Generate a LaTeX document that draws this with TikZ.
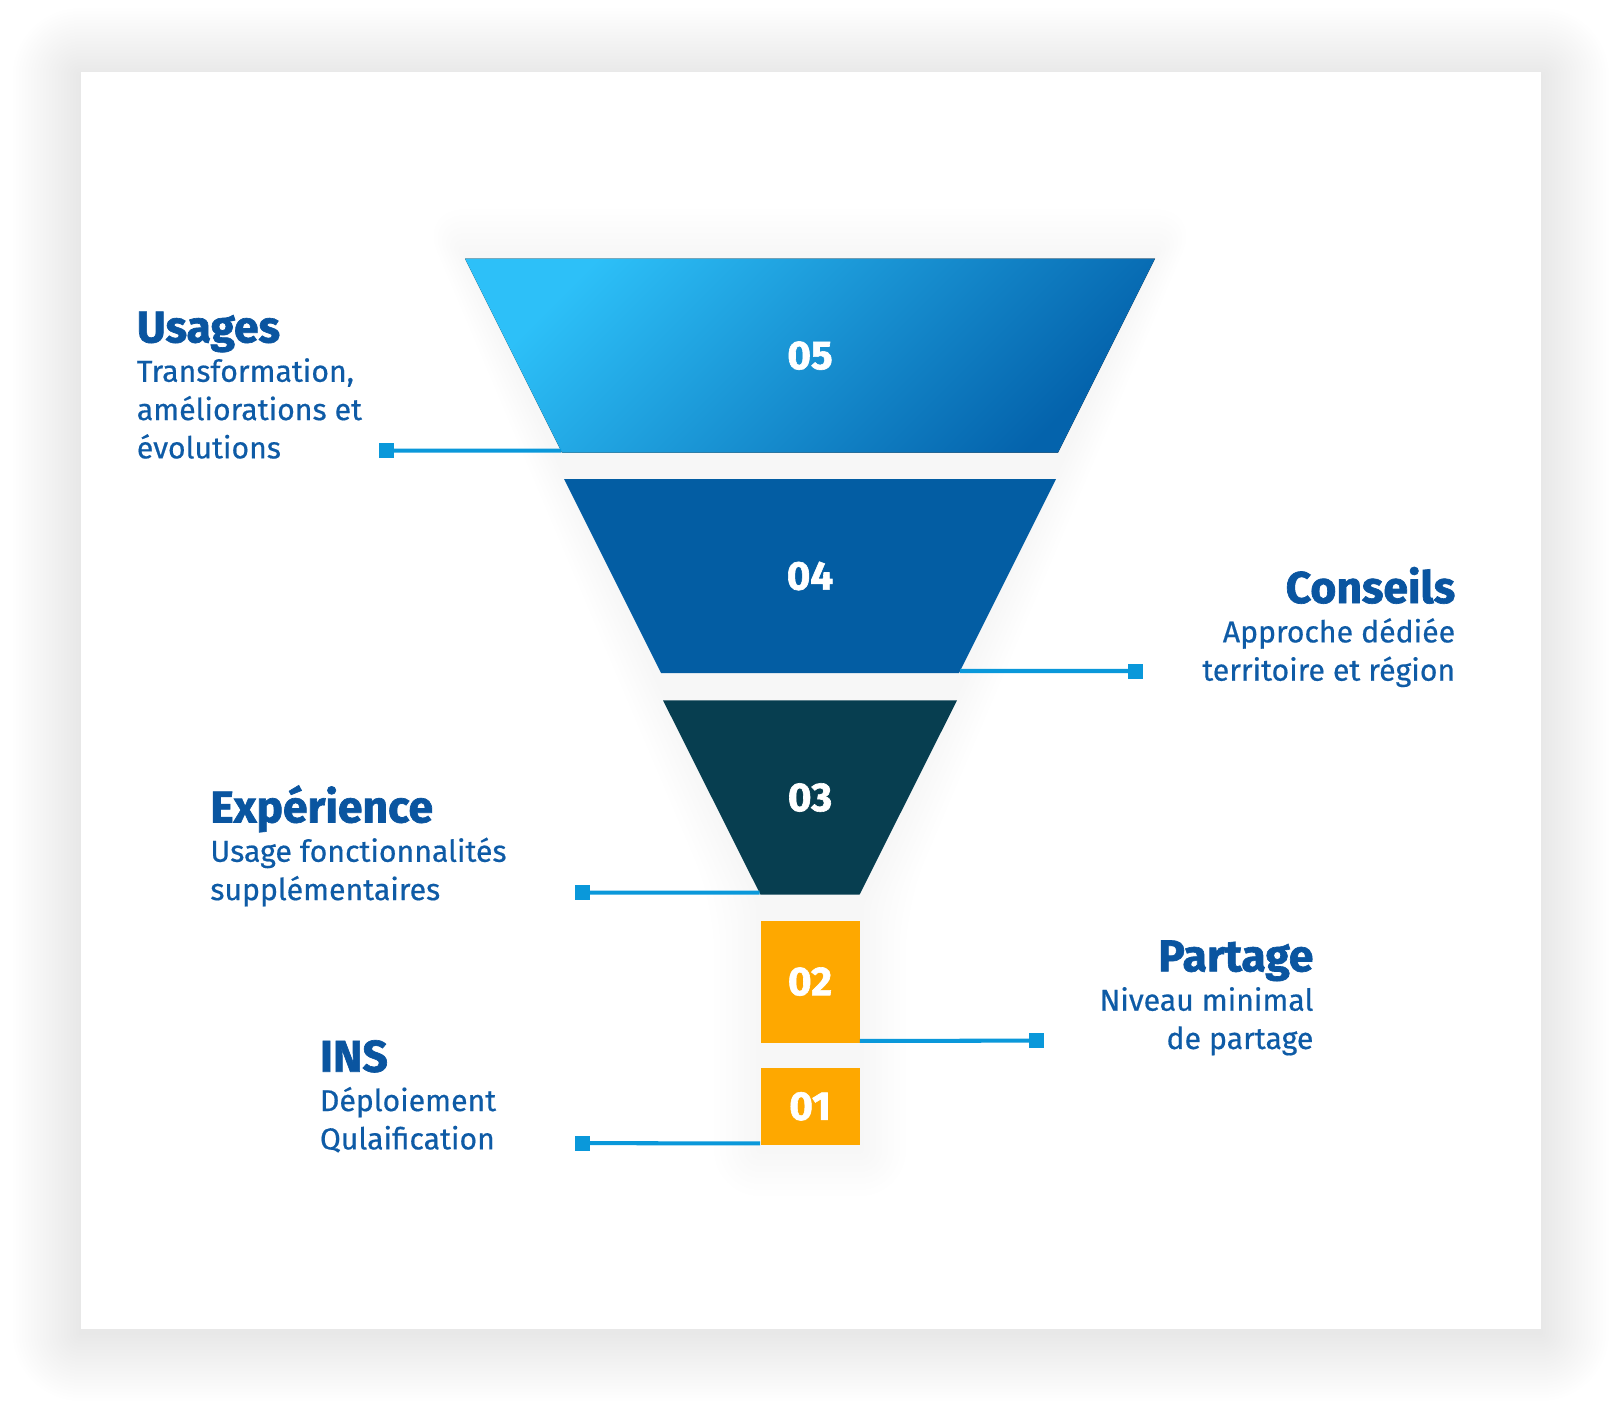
\documentclass[tikz,border=0pt]{standalone}
\usepackage{fontspec}
\setmainfont{Fira Sans}
\newfontfamily\heavyfont{Fira Sans}[BoldFeatures={FakeBold=1.5}]
\newfontfamily\blurbfont{Fira Sans}[FakeBold=0.5]
\usepackage{xcolor}
\usetikzlibrary{positioning}

\definecolor{titleblue}{HTML}{0A55A0}
\definecolor{blurbblue}{HTML}{0E5BA6}
\definecolor{linkblue}{HTML}{0A98DA}
\definecolor{fivelight}{HTML}{2DC0F8}
\definecolor{fivedark}{HTML}{0463AC}
\definecolor{fourblue}{HTML}{035DA3}
\definecolor{threeteal}{HTML}{073E50}
\definecolor{boxorange}{HTML}{FEA800}
\definecolor{shadowtint}{HTML}{2A3C5A}

\begin{document}
\begin{tikzpicture}[
		x=0.02cm, y=-0.02cm,
		numlabel/.style={
			font=\heavyfont\fontsize{23}{26}\selectfont\bfseries,
			text=white,
			inner sep=0pt
		},
		headline/.style={
			font=\heavyfont\fontsize{25.3}{28}\selectfont\bfseries,
			text=titleblue,
			inner sep=0pt
		},
		blurb/.style={
			font=\blurbfont\fontsize{17.2}{21.8}\selectfont,
			text=blurbblue,
			inner sep=0pt
		},
		stepbox/.style={
			rectangle,
			fill=boxorange,
			inner sep=0pt,
			minimum width=1.98cm,
			font=\heavyfont\fontsize{23}{26}\selectfont\bfseries,
			text=white
		},
		marker/.style={
			rectangle,
			fill=linkblue,
			minimum size=0.3cm,
			inner sep=0pt
		},
		link/.style={
			draw=linkblue,
			line width=2.3pt
		}
		]
		
		\useasboundingbox (0,0) rectangle (1622,1418);
		\fill[white] (0,0) rectangle (1622,1418);
		
		% card with soft shadow
		\foreach \g in {2,5,...,68}
		\fill[shadowtint, opacity=0.0026, rounded corners=\g*0.02cm] (80.7-\g,76-\g) rectangle (1541+\g,1333+\g);
		\fill[white] (80.7,72.4) rectangle (1541,1329);
		
		% glow behind the funnel
		\foreach \g in {4,10,...,46}
		\fill[shadowtint, opacity=0.0035, rounded corners=\g*0.02cm] (465-\g,255-\g) -- (1155+\g,255-\g) -- (860+\g,905) -- (860+\g,1150+\g) -- (760-\g,1150+\g) -- (760-\g,905) -- cycle;
		
		% funnel
		\fill[top color=fivelight, bottom color=fivedark, shading angle=45]
		(562,452.6) -- coordinate[pos=0.0103] (l5) (465,258.6) -- (1155,258.6) -- (1058,452.6) -- cycle;
		\fill[fourblue]
		(564,479) -- (1056,479) -- coordinate[pos=0.9897] (l4) (959,673) -- (661,673) -- cycle;
		\fill[threeteal]
		(760.5,894.7) -- coordinate[pos=0.0103] (l3) (663,700.3) -- (957,700.3) -- (859.5,894.7) -- cycle;
		
		\node[numlabel] (n5) at (810,355.6) {05};
		\node[numlabel] (n4) at (810,576) {04};
		\node[numlabel] (n3) at (810,797.5) {03};
		\node[stepbox, minimum height=2.44cm] (s2) at (810,981.6) {02};
		\node[stepbox, minimum height=1.552cm] (s1) at (810,1106.3) {01};
		
		% labels (base anchor of a multi-line node is its last line)
		\node[headline, anchor=base west] (usages) at (136.5,342.4) {Usages};
		\node[blurb, align=left, anchor=base west] (usagesText) at ([yshift=-66pt]usages.base west)
		{Transformation,\\améliorations et\\évolutions};
		
		\node[headline, anchor=base east] (conseils) at (1455.5,603) {Conseils};
		\node[blurb, align=right, anchor=base east] (conseilsText) at ([yshift=-44.2pt]conseils.base east)
		{Approche dédiée\\territoire et région};
		
		\node[headline, anchor=base west] (experience) at (210,822.4) {Expérience};
		\node[blurb, align=left, anchor=base west] (experienceText) at ([yshift=-44.2pt]experience.base west)
		{Usage fonctionnalités\\supplémentaires};
		
		\node[headline, anchor=base east] (partage) at (1313.7,971.3) {Partage};
		\node[blurb, align=right, anchor=base east] (partageText) at ([yshift=-44.2pt]partage.base east)
		{Niveau minimal\\de partage};
		
		\node[headline, anchor=base west] (ins) at (319.6,1071.7) {INS};
		\node[blurb, align=left, anchor=base west] (insText) at ([yshift=-44.2pt]ins.base west)
		{Déploiement\\Qulaification};
		
		% connectors
		\node[marker] (m5) at (386,450.6) {};
		\node[marker] (m4) at (1135.8,671) {};
		\node[marker] (m3) at (582.4,892.7) {};
		\node[marker] (m2) at (1036.5,1040.6) {};
		\node[marker] (m1) at (582.4,1143.1) {};
		
		\draw[link] (m5.center) -- (l5);
		\draw[link] (l4) -- (m4.center);
		\draw[link] (m3.center) -- (l3);
		\draw[link] ([yshift=1.14pt]s2.south east) -- (m2.center);
		\draw[link] (m1.center) -- ([yshift=1.14pt]s1.south west);
		
	\end{tikzpicture}
\end{document}
